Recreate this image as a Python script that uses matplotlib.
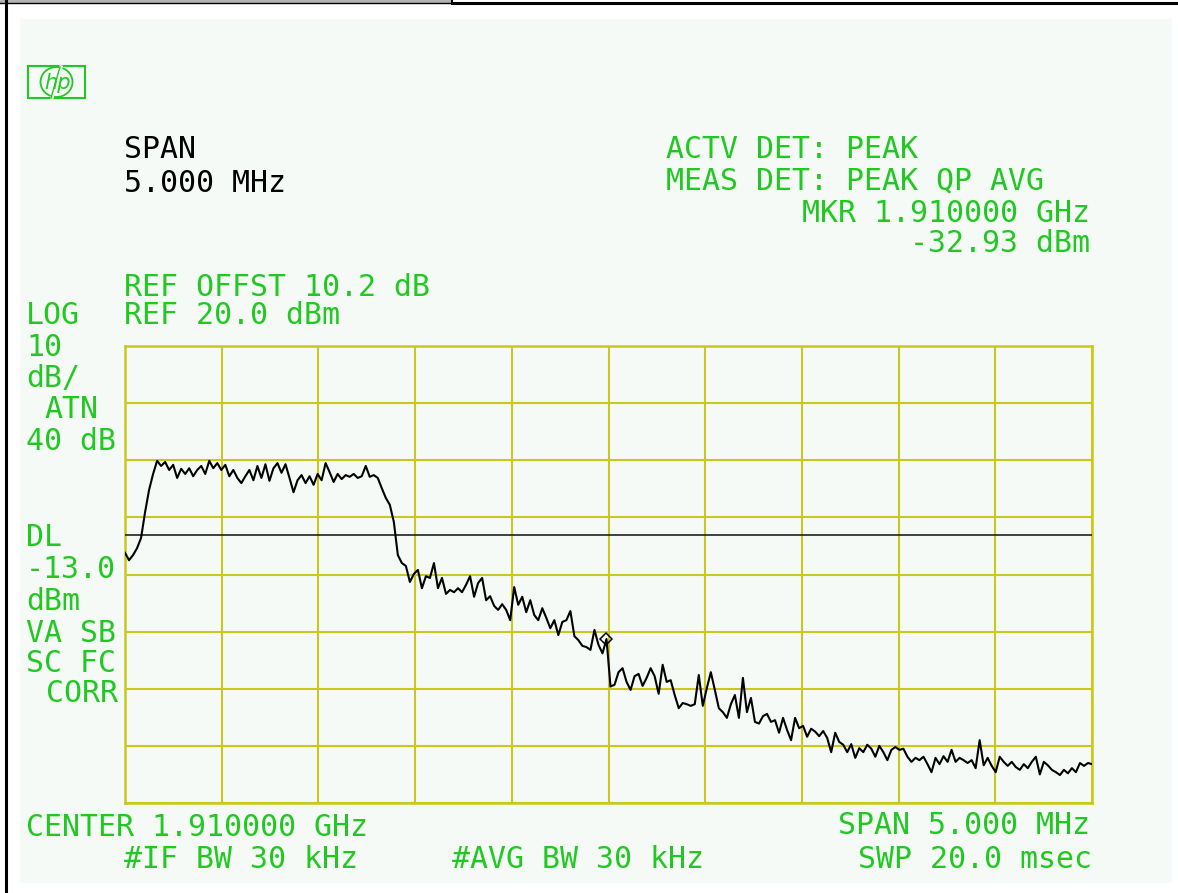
import matplotlib
matplotlib.use("Agg")
import matplotlib.pyplot as plt
import numpy as np
from matplotlib.patches import Rectangle, Ellipse
from matplotlib.lines import Line2D

W, H = 1178, 893

# analyzer settings
center_ghz = 1.910
span_mhz = 5.0
ref_dbm = 20.0
db_div = 10.0
n_div_y = 8
n_div_x = 10
dl_dbm = -13.0
mkr_dbm = -32.93

# trace (dBm), 242 points across the span
trace_dbm = [
    -16.2, -17.5, -16.6, -15.4, -13.6, -9.1, -5.2, -2.4, -0.1, -1.0,
    -0.3, -1.7, -0.8, -3.1, -1.5, -2.4, -1.4, -2.8, -1.7, -1.0,
    -2.4, -0.1, -1.4, -0.5, -1.7, -0.8, -2.8, -1.7, -3.1, -4.0,
    -2.8, -1.7, -3.5, -1.0, -3.1, -0.7, -3.6, -1.4, -0.5, -2.2,
    -0.7, -3.1, -5.6, -3.5, -2.6, -4.0, -2.8, -4.3, -2.4, -3.5,
    -0.5, -2.1, -3.8, -2.4, -3.3, -2.6, -2.9, -2.4, -3.1, -2.8,
    -1.0, -2.9, -2.6, -3.1, -4.9, -6.6, -7.8, -10.8, -16.6, -18.0,
    -18.5, -21.3, -19.9, -19.2, -22.4, -20.3, -20.6, -18.0, -22.4, -20.6,
    -23.4, -22.7, -23.1, -22.4, -23.1, -21.8, -20.3, -23.9, -21.5, -20.6,
    -24.5, -23.8, -25.5, -26.2, -25.2, -26.2, -28.0, -22.2, -25.3, -23.9,
    -26.6, -24.5, -27.1, -28.0, -25.9, -27.6, -29.4, -28.0, -30.6, -28.3,
    -28.0, -26.4, -30.8, -31.5, -32.5, -32.7, -33.2, -29.7, -32.3, -33.8,
    -31.3, -39.6, -39.3, -37.1, -36.4, -38.8, -40.2, -37.8, -37.4, -39.5,
    -38.1, -36.4, -37.8, -40.9, -35.8, -38.8, -38.5, -41.1, -43.4, -42.5,
    -42.7, -43.0, -42.7, -37.6, -43.0, -39.9, -37.1, -40.2, -43.4, -44.1,
    -45.1, -42.7, -41.1, -45.1, -38.1, -44.1, -41.6, -45.8, -46.1, -44.8,
    -44.4, -45.8, -45.5, -47.7, -45.1, -47.2, -49.0, -45.1, -46.9, -46.5,
    -48.4, -47.0, -47.5, -48.3, -47.4, -48.6, -51.1, -47.7, -49.3, -49.8,
    -51.1, -49.7, -52.1, -50.4, -51.1, -49.8, -50.5, -51.9, -50.0, -51.1,
    -52.5, -50.7, -50.2, -50.7, -50.5, -51.9, -52.8, -52.1, -52.5, -51.9,
    -53.2, -54.6, -52.1, -53.2, -51.8, -52.8, -50.7, -52.8, -52.1, -52.5,
    -53.0, -52.5, -53.9, -49.0, -53.4, -52.1, -53.5, -54.6, -51.9, -52.8,
    -53.5, -52.8, -53.7, -54.2, -53.2, -53.9, -52.8, -51.9, -55.0, -52.8,
    -53.4, -54.2, -54.6, -55.1, -54.2, -54.8, -53.9, -54.6, -53.0, -53.5,
    -53.0, -53.2,
]

GREEN = "#22c822"
GRID = "#c8c81e"
PANEL = "#f5faf7"
FONT = "DejaVu Sans Mono"
FS = 21.5

fig = plt.figure(figsize=(W / 100, H / 100), dpi=100)
fig.patch.set_facecolor("white")

# overlay in screen pixels for frame, logo and annotations
ov = fig.add_axes([0, 0, 1, 1], zorder=0)
ov.set_xlim(0, W)
ov.set_ylim(H, 0)
ov.axis("off")

ov.add_patch(Rectangle((20, 19), 1152, 864, facecolor=PANEL, edgecolor="none"))
ov.add_patch(Rectangle((0, 0), 452, 2.5, facecolor="#b4b4b4", edgecolor="none"))
ov.add_line(Line2D([0, 452], [3, 3], color="black", lw=1.0))
ov.add_line(Line2D([452, 1178], [2.5, 2.5], color="black", lw=2.2))
ov.add_line(Line2D([452, 452], [0, 3], color="black", lw=1.5))
ov.add_line(Line2D([6, 6], [0, H], color="black", lw=2.2))

# hp logo
ov.add_patch(Rectangle((28, 66), 57, 32, facecolor="none", edgecolor=GREEN, lw=1.5))
ov.add_patch(Ellipse((56.5, 82), 32, 30, facecolor=PANEL, edgecolor=GREEN, lw=1.3))
ov.text(57.5, 83, "hp", color=GREEN, fontsize=15, style="italic",
        family="DejaVu Sans", ha="center", va="center")
ov.add_line(Line2D([61, 52], [67, 98], color=PANEL, lw=2.5))
ov.add_line(Line2D([60, 51], [67, 98], color=GREEN, lw=1.0))


def txt(x, y, s, color=GREEN, ha="left"):
    ov.text(x, y, s, color=color, fontsize=FS, family=FONT, ha=ha, va="center")


txt(124, 150, "SPAN", color="black")
txt(124, 183, "5.000 MHz", color="black")
txt(666, 150, "ACTV DET: PEAK")
txt(666, 181, "MEAS DET: PEAK QP AVG")
txt(1090, 213, "MKR 1.910000 GHz", ha="right")
txt(1090, 243, "%.2f dBm" % mkr_dbm, ha="right")
txt(124, 287, "REF OFFST 10.2 dB")
txt(26, 316, "LOG")
txt(124, 316, "REF %.1f dBm" % ref_dbm)
txt(26, 347, "10")
txt(26, 379, "dB/")
txt(44, 410, "ATN")
txt(26, 442, "40 dB")
txt(26, 538, "DL")
txt(26, 569, "%.1f" % dl_dbm)
txt(26, 601, "dBm")
txt(26, 633, "VA SB")
txt(26, 663, "SC FC")
txt(46, 693, "CORR")
txt(26, 827, "CENTER %.6f GHz" % center_ghz)
txt(124, 859, "#IF BW 30 kHz")
txt(452, 859, "#AVG BW 30 kHz")
txt(1090, 825, "SPAN %.3f MHz" % span_mhz, ha="right")
txt(1092, 859, "SWP 20.0 msec", ha="right")

# graticule and trace
ax = fig.add_axes([125 / W, 1 - 803 / H, 967 / W, 457 / H], zorder=1)
ax.set_facecolor("none")
f_lo = center_ghz - span_mhz / 2000
f_hi = center_ghz + span_mhz / 2000
bottom = ref_dbm - n_div_y * db_div
freq = np.linspace(f_lo, f_hi, len(trace_dbm))

ax.set_xlim(f_lo, f_hi)
ax.set_ylim(bottom, ref_dbm)
ax.set_xticks(np.linspace(f_lo, f_hi, n_div_x + 1))
ax.set_yticks(np.linspace(bottom, ref_dbm, n_div_y + 1))
ax.tick_params(length=0, labelbottom=False, labelleft=False)
ax.grid(True, color=GRID, lw=1.5)
for sp in ax.spines.values():
    sp.set_color(GRID)
    sp.set_linewidth(1.8)

ax.axhline(dl_dbm, color="#202020", lw=1.2, zorder=3)
ax.plot(freq, trace_dbm, color="black", lw=1.5, zorder=4)
mi = int(np.argmin(np.abs(freq - center_ghz)))
ax.plot([freq[mi]], [trace_dbm[mi]], marker="D", ms=6, mfc="none", mec="black",
        mew=1.1, zorder=5)

fig.savefig("out.png", dpi=100, facecolor=fig.get_facecolor())
